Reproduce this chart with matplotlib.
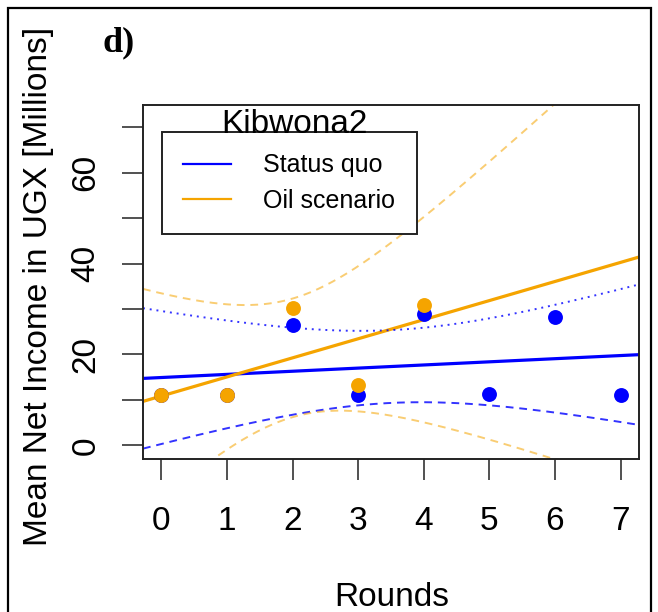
"""Panel d): mean net income per round, Kibwona2, status quo vs oil scenario."""

import matplotlib

matplotlib.use("Agg")
import matplotlib.pyplot as plt  # noqa: E402
import numpy as np  # noqa: E402
from matplotlib.patches import Rectangle  # noqa: E402

# data (UGX millions)
ROUNDS_SQ = [0, 1, 2, 3, 4, 5, 6, 7]
INCOME_SQ = [11.0, 11.0, 26.5, 11.0, 28.9, 11.2, 28.2, 11.0]
ROUNDS_OIL = [0, 1, 2, 3, 4]
INCOME_OIL = [11.0, 11.0, 30.2, 13.2, 30.9]

X_TICKS = [0, 1, 2, 3, 4, 5, 6, 7]
Y_TICKS = [0, 10, 20, 30, 40, 50, 60, 70]
Y_TICK_LABELS = ["0", "", "20", "", "40", "", "60", ""]

# two-sided 95% t quantiles for the lm confidence bands (df = n - 2)
T975 = {6: 2.446912, 3: 3.182446}

BLUE = "#0000FF"
ORANGE = "#F5A400"
SANS = "Liberation Sans"

W, H = 658, 612
plt.rcParams.update({"font.family": SANS})


def lm_band(x, y, grid):
    """OLS fit plus 95% confidence band, like predict(lm, interval='confidence')."""
    x = np.asarray(x, float)
    y = np.asarray(y, float)
    n = len(x)
    slope, icpt = np.polyfit(x, y, 1)
    resid = y - (icpt + slope * x)
    s = np.sqrt((resid**2).sum() / (n - 2))
    sxx = ((x - x.mean()) ** 2).sum()
    fit = icpt + slope * grid
    hw = T975[n - 2] * s * np.sqrt(1 / n + (grid - x.mean()) ** 2 / sxx)
    return fit, fit - hw, fit + hw


fig = plt.figure(figsize=(W / 100, H / 100), dpi=100)
ax = fig.add_axes([143 / W, 1 - 458.5 / H, 496 / W, 353.5 / H])

xlim = (-0.28, 7.28)
ylim = (-2.88, 74.88)
grid = np.linspace(*xlim, 200)

fit_sq, lo_sq, hi_sq = lm_band(ROUNDS_SQ, INCOME_SQ, grid)
fit_oil, lo_oil, hi_oil = lm_band(ROUNDS_OIL, INCOME_OIL, grid)

ax.scatter(ROUNDS_SQ, INCOME_SQ, s=115, color=BLUE, zorder=3, linewidths=0)
ax.scatter(ROUNDS_OIL, INCOME_OIL, s=115, color=ORANGE, zorder=4, linewidths=0)

ax.plot(grid, fit_sq, color=BLUE, lw=2.3, label="Status quo", zorder=2)
ax.plot(grid, fit_oil, color=ORANGE, lw=2.3, label="Oil scenario", zorder=2)
ax.plot(grid, hi_sq, color=BLUE, lw=1.4, ls=(0, (1, 2.5)), alpha=0.8)
ax.plot(grid, lo_sq, color=BLUE, lw=1.4, ls=(0, (4, 3)), alpha=0.8)
ax.plot(grid, hi_oil, color=ORANGE, lw=1.4, ls=(0, (4, 3)), alpha=0.55)
ax.plot(grid, lo_oil, color=ORANGE, lw=1.4, ls=(0, (4, 3)), alpha=0.55)

ax.set_xlim(*xlim)
ax.set_ylim(*ylim)
ax.set_xticks(X_TICKS)
ax.set_xticklabels([str(t) for t in X_TICKS])
ax.set_yticks(Y_TICKS)
ax.set_yticklabels(Y_TICK_LABELS, rotation=90, va="center")
ax.tick_params(axis="both", direction="out", length=15, width=1.1, labelsize=24, color="#222222")
ax.tick_params(axis="x", pad=19)
ax.tick_params(axis="y", pad=15)
for sp in ax.spines.values():
    sp.set_linewidth(1.4)
    sp.set_color("#222222")

leg = ax.legend(
    loc="upper left",
    bbox_to_anchor=((162 - 143) / 496, (458.5 - 132) / 353.5),
    borderaxespad=0,
    fontsize=18,
    frameon=True,
    fancybox=False,
    framealpha=1,
    edgecolor="#222222",
    borderpad=0.85,
    handlelength=1.9,
    handletextpad=1.3,
    labelspacing=0.45,
)
leg.get_frame().set_linewidth(1.4)
for h in leg.get_lines():
    h.set_linewidth(1.6)

fig.text(294 / W, 1 - 133 / H, "Kibwona2", ha="center", va="baseline", fontsize=24)
fig.text(392 / W, 1 - 606 / H, "Rounds", ha="center", va="baseline", fontsize=24)
fig.text(
    47 / W,
    1 - 286.5 / H,
    "Mean Net Income in UGX [Millions]",
    rotation=90,
    rotation_mode="anchor",
    ha="center",
    va="baseline",
    fontsize=24,
)
fig.text(103 / W, 1 - 51 / H, "d)", family="Liberation Serif", fontweight="bold", fontsize=26,
         ha="left", va="baseline")

# outer panel border (bottom edge falls outside the crop)
fig.add_artist(Rectangle((7.5 / W, -0.05), 643.5 / W, 1.05 - 8 / H, transform=fig.transFigure,
                         fill=False, lw=1.6, ec="black"))

fig.savefig("out.png", dpi=100)
